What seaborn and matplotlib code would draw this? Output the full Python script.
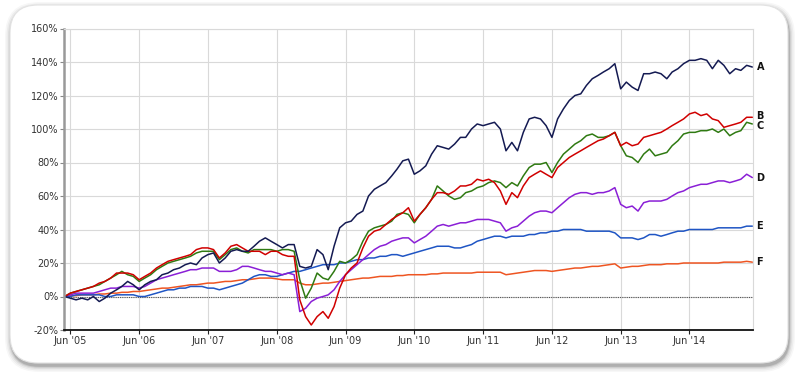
import numpy as np
import pandas as pd
import matplotlib
matplotlib.use("Agg")
import matplotlib.pyplot as plt
import seaborn as sns
from matplotlib.patches import FancyBboxPatch

# ---------------- data (cumulative return, %) monthly May 2005 .. May 2015
start_date = "2005-05-01"
n_months = 121
series_names = ["A", "B", "C", "D", "E", "F"]

A = [0, -1, -2, -1, -2, 0, -3, -1, 2, 4,
     6, 9, 7, 4, 7, 9, 10, 13, 14, 16,
     17, 19, 20, 19, 23, 25, 26, 20, 23, 27,
     28, 27, 27, 30, 33, 35, 33, 31, 29, 31,
     31, 18, 17, 18, 28, 25, 16, 30, 41, 44,
     45, 49, 51, 60, 64, 66, 68, 72, 76, 81,
     82, 73, 75, 78, 85, 90, 89, 88, 91, 95,
     95, 100, 103, 102, 103, 104, 100, 87, 92, 87,
     98, 106, 107, 106, 102, 95, 106, 112, 117, 120,
     121, 126, 130, 132, 134, 136, 139, 124, 128, 125,
     123, 133, 133, 134, 133, 130, 134, 136, 139, 141,
     141, 142, 141, 136, 141, 138, 133, 136, 135, 138,
     137]
B = [0, 2, 3, 4, 5, 6, 8, 9, 11, 14,
     14, 14, 13, 10, 12, 14, 17, 19, 21, 22,
     23, 24, 25, 28, 29, 29, 28, 23, 26, 30,
     31, 29, 27, 27, 27, 25, 27, 27, 25, 24,
     24, -2, -12, -17, -12, -9, -13, -6, 5, 13,
     17, 20, 29, 36, 39, 40, 43, 46, 48, 50,
     53, 45, 49, 53, 58, 62, 62, 61, 63, 66,
     66, 67, 70, 69, 70, 68, 63, 55, 62, 59,
     66, 71, 73, 75, 73, 71, 77, 80, 83, 85,
     87, 89, 91, 93, 94, 96, 98, 90, 92, 90,
     91, 95, 96, 97, 98, 100, 102, 104, 106, 109,
     110, 108, 109, 106, 105, 101, 102, 103, 104, 107,
     107]
C = [0, 2, 3, 4, 5, 6, 7, 9, 11, 13,
     15, 13, 12, 9, 11, 13, 16, 18, 20, 21,
     22, 23, 24, 26, 27, 27, 27, 22, 25, 28,
     29, 27, 26, 28, 28, 28, 28, 27, 28, 28,
     27, 10, -1, 5, 14, 11, 10, 15, 21, 20,
     22, 25, 33, 39, 41, 42, 43, 45, 49, 50,
     49, 44, 49, 53, 58, 66, 63, 60, 58, 59,
     62, 63, 65, 66, 68, 69, 68, 65, 68, 66,
     72, 77, 79, 79, 80, 74, 80, 85, 88, 91,
     93, 96, 97, 95, 95, 96, 98, 90, 84, 83,
     80, 85, 88, 84, 85, 86, 90, 93, 97, 98,
     98, 99, 99, 100, 98, 100, 96, 98, 99, 104,
     103]
D = [0, 1, 2, 2, 2, 2, 3, 4, 5, 5,
     6, 6, 6, 5, 6, 8, 10, 11, 12, 13,
     14, 15, 16, 16, 17, 17, 17, 15, 15, 15,
     16, 18, 18, 17, 16, 15, 15, 14, 13, 14,
     13, -9, -7, -3, -1, 0, 1, 4, 9, 13,
     16, 19, 22, 25, 28, 30, 31, 33, 34, 35,
     35, 32, 34, 36, 39, 42, 43, 42, 43, 44,
     44, 45, 46, 46, 46, 45, 44, 39, 41, 42,
     45, 48, 50, 51, 51, 50, 53, 56, 59, 61,
     62, 62, 61, 62, 62, 63, 65, 55, 53, 54,
     51, 56, 57, 57, 57, 58, 60, 62, 63, 65,
     66, 67, 67, 68, 69, 69, 68, 69, 70, 73,
     71]
E = [0, 0, 1, 1, 1, 1, 1, 0, 0, 1,
     1, 1, 1, 0, 0, 1, 2, 3, 4, 4,
     5, 5, 6, 6, 6, 5, 5, 4, 5, 6,
     7, 8, 10, 12, 13, 13, 12, 12, 13, 14,
     15, 15, 16, 17, 18, 19, 19, 19, 20, 20,
     21, 22, 22, 23, 23, 24, 24, 25, 25, 24,
     25, 26, 27, 28, 29, 30, 30, 30, 29, 29,
     30, 31, 33, 34, 35, 36, 36, 35, 36, 36,
     36, 37, 37, 38, 38, 39, 39, 40, 40, 40,
     40, 39, 39, 39, 39, 39, 38, 35, 35, 35,
     34, 35, 37, 37, 36, 37, 38, 39, 39, 40,
     40, 40, 40, 40, 41, 41, 41, 41, 41, 42,
     42]
F = [0, 0.5, 0.5, 1, 1, 1, 1.5, 1.5, 2, 2,
     2.5, 2.5, 3, 3, 3.5, 4, 4.5, 5, 5, 5.5,
     6, 6.5, 7, 7, 7.5, 8, 8, 8.5, 9, 9,
     9.5, 10, 10, 10.5, 11, 11, 11, 10.5, 10, 10,
     10, 8, 7, 7, 7.5, 8, 8, 8.5, 9, 9.5,
     10, 10.5, 11, 11, 11.5, 12, 12, 12, 12.5, 12.5,
     13, 13, 13, 13, 13.5, 13.5, 14, 14, 14, 14,
     14, 14, 14.5, 14.5, 14.5, 14.5, 14.5, 13, 13.5, 14,
     14.5, 15, 15.5, 15.5, 15.5, 15, 15.5, 16, 16.5, 17,
     17, 17.5, 18, 18, 18.5, 19, 19.5, 17, 17.5, 18,
     18, 18.5, 19, 19, 19, 19.5, 19.5, 19.5, 20, 20,
     20, 20, 20, 20, 20, 20.5, 20.5, 20.5, 20.5, 21,
     20.5]

y_ticks = [-20, 0, 20, 40, 60, 80, 100, 120, 140, 160]
y_tick_labels = [f"{v}%" for v in y_ticks]
x_tick_dates = pd.date_range("2005-06-01", "2014-06-01", freq="12MS")
x_tick_labels = [f"Jun '{d.year % 100:02d}" for d in x_tick_dates]

colors = {"A": "#141a52", "B": "#d00000", "C": "#2f7a12",
          "D": "#8a1fd6", "E": "#1f55c4", "F": "#ee5522"}

# ---------------- build frame
dates = pd.date_range(start_date, periods=n_months, freq="MS")
values = {"A": A, "B": B, "C": C, "D": D, "E": E, "F": F}
df = pd.concat([pd.DataFrame({"date": dates, "value": values[s], "series": s})
                for s in series_names], ignore_index=True)

sns.set_theme(style="white")
plt.rcParams["font.family"] = ["DejaVu Sans"]

W, H = 800, 375
fig = plt.figure(figsize=(W / 100, H / 100), dpi=100)
fig.patch.set_facecolor("white")

# rounded frame with soft shadow (pixel coords -> inches)
def px_box(l, t, r, b, rnd, **kw):
    return FancyBboxPatch((l / 100, (H - b) / 100), (r - l) / 100, (b - t) / 100,
                          boxstyle=f"round,pad=0,rounding_size={rnd/100}",
                          transform=fig.dpi_scale_trans, **kw)

for g, a in [(6, 0.03), (4.5, 0.045), (3, 0.06), (1.8, 0.09), (0.8, 0.13)]:
    fig.add_artist(px_box(10 - g + 1, 5 - g + 3, 788 + g + 1, 363 + g + 3, 28 + g,
                          facecolor="black", edgecolor="none", alpha=a, zorder=-5))
fig.add_artist(px_box(10, 5, 788, 363, 28, facecolor="white",
                      edgecolor="#e2e2e2", linewidth=0.8, zorder=-4))

ax = fig.add_axes([64 / W, 45 / H, (752.7 - 64) / W, (330 - 28.5) / H])
ax.set_facecolor("white")

ax.grid(True, color="#d9d9d9", linewidth=0.8)
ax.set_axisbelow(True)
ax.axhline(0, color="#555555", linewidth=0.8, linestyle=(0, (1, 1)), zorder=1.5)

order = ["F", "E", "D", "C", "B", "A"]
sns.lineplot(data=df, x="date", y="value", hue="series", hue_order=order,
             palette=colors, linewidth=1.1, legend=False, ax=ax, zorder=2)

ax.set_xlim(pd.Timestamp("2005-04-28"), pd.Timestamp("2015-05-03"))
ax.set_ylim(-20, 160)
ax.set_yticks(y_ticks)
ax.set_yticklabels(y_tick_labels)
ax.set_xticks(x_tick_dates)
ax.set_xticklabels(x_tick_labels)
ax.set_xlabel("")
ax.set_ylabel("")

ax.tick_params(axis="y", length=3, width=0.8, color="#888888", labelsize=7,
               labelcolor="#333333", pad=1, left=True)
ax.tick_params(axis="x", length=3, width=0.8, color="#222222", labelsize=7,
               labelcolor="#333333", pad=1, bottom=True)

for side in ["top", "right"]:
    ax.spines[side].set_color("#d9d9d9")
    ax.spines[side].set_linewidth(0.8)
ax.spines["left"].set_color("#999999")
ax.spines["left"].set_linewidth(1.8)
ax.spines["bottom"].set_color("#111111")
ax.spines["bottom"].set_linewidth(1.3)

# end labels with minimal spacing
last = {s: values[s][-1] for s in series_names}
items = sorted(last.items(), key=lambda kv: kv[1])
pos = [v for _, v in items]
gap = 6.0
for _ in range(20):
    for i in range(1, len(pos)):
        if pos[i] - pos[i - 1] < gap:
            mid = (pos[i] + pos[i - 1]) / 2
            pos[i - 1] = mid - gap / 2
            pos[i] = mid + gap / 2
for (s, _), p in zip(items, pos):
    ax.annotate(s, xy=(dates[-1], p), xytext=(3, 0), textcoords="offset points",
                ha="left", va="center", fontsize=7, fontweight="bold",
                color="#111111", annotation_clip=False)

fig.savefig("out.png", dpi=100, facecolor="white")
